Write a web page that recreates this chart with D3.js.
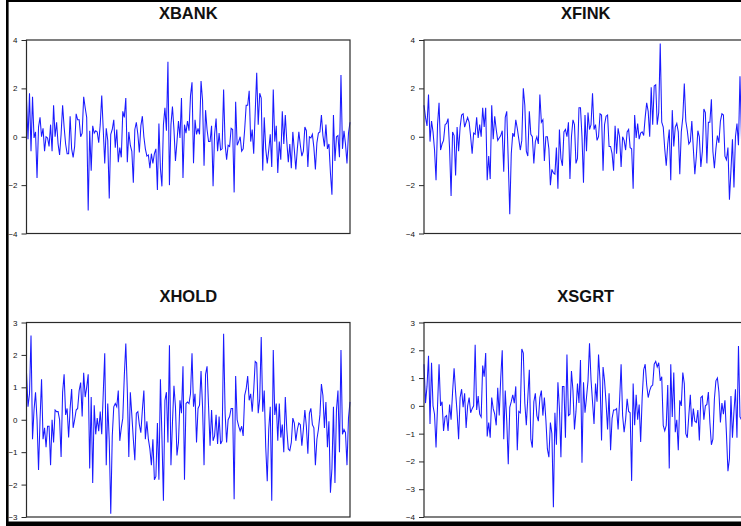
<!DOCTYPE html>
<html>
<head>
<meta charset="utf-8">
<script src="https://cdn.jsdelivr.net/npm/d3@7"></script>
<style>
  html, body { margin: 0; padding: 0; background: #fff; }
  svg { display: block; }
</style>
</head>
<body>
<svg id="chart" width="741" height="526"></svg>
<script>
// Standardised monthly series, one array per panel
const xbank = [1.55,-0.1,1.8,-0.6,1.65,-0.05,0.2,-1.7,0.4,0.8,0.0,0.35,-0.6,0.0,-0.05,-0.4,0.5,-0.6,1.3,0.0,0.6,-0.3,-0.75,0.1,1.3,0.4,-0.3,-0.7,-0.7,0.85,-0.5,-0.85,-0.4,0.95,0.7,0.7,0.0,0.15,1.65,1.2,0.8,-3.05,0.25,-1.4,0.45,0.15,0.25,0.2,-0.25,0.5,1.7,0.3,-1.1,0.35,-0.15,-2.55,0.1,0.3,0.7,-0.45,0.3,-1.05,-0.45,-0.85,1.05,0.8,1.6,-1.05,0.2,-0.35,-0.6,-1.9,0.3,0.6,0.1,-0.65,0.45,0.85,0.0,-0.5,-0.8,-0.75,-1.3,-0.7,-1.1,-0.7,-0.5,-2.2,0.55,-1.3,-2.05,0.5,1.2,0.25,3.1,-2.0,0.5,1.25,0.3,-1.0,-0.2,0.65,-0.05,1.6,-1.7,0.5,0.15,0.65,0.25,1.7,2.25,-1.1,0.7,0.1,0.35,0.1,2.3,1.5,-1.2,1.1,0.3,-0.2,-0.2,0.45,-2.05,0.1,0.75,-0.6,0.15,-0.55,-0.5,1.95,-0.3,-0.95,-0.35,-0.4,0.35,0.3,-2.3,1.45,-0.35,-0.2,0.0,-0.6,-0.5,0.3,1.3,1.3,1.9,-0.2,0.3,-0.7,1.0,2.65,0.5,1.8,1.6,-1.4,0.8,-0.5,-1.1,-0.55,0.1,-1.25,1.95,-0.2,0.45,-1.5,-0.2,-0.95,1.05,-0.3,0.9,-0.2,-1.05,-0.3,-1.3,0.2,-0.55,-1.35,-0.5,0.2,-0.35,-0.8,-0.6,0.4,0.25,-1.25,0.0,-0.05,0.1,-0.45,-1.35,-0.25,0.15,0.2,0.9,0.05,-0.4,0.5,-0.5,-0.3,-1.5,-2.4,0.9,-1.0,0.0,0.05,-0.85,2.55,-0.5,0.25,-0.3,-1.1,0.15,0.6];

const xfink = [1.3,0.8,0.45,1.75,-0.2,0.65,0.2,-0.55,-1.8,0.5,1.4,-0.55,-0.3,-0.15,0.5,0.55,0.75,-0.5,-2.45,0.2,0.05,-1.6,0.4,-0.6,0.4,0.9,0.95,0.4,0.6,0.8,0.6,0.0,-0.7,0.15,0.1,0.8,-0.05,0.5,0.0,1.2,0.4,1.2,-1.8,-0.8,-1.75,1.3,-0.1,0.85,0.3,-0.15,-0.05,0.05,0.25,-1.45,0.8,1.05,-1.0,-3.2,-0.7,0.15,0.0,0.7,0.35,-0.1,-0.55,-0.15,2.0,1.3,-0.6,-0.8,1.05,0.1,0.0,-1.1,-0.2,0.0,-0.3,1.75,0.6,0.7,-1.0,0.0,0.0,-0.5,-2.0,-1.35,-1.5,-1.55,-0.45,-2.15,0.3,-0.9,-1.2,0.2,0.3,0.0,0.6,-1.75,0.0,0.7,0.5,-1.1,-0.9,1.2,1.2,0.0,-1.9,0.9,-0.6,1.0,0.3,0.5,1.8,0.3,0.5,-0.15,0.0,0.95,0.9,-1.4,0.5,0.85,0.9,-0.4,-0.4,-0.7,-1.4,0.45,-0.7,0.35,0.0,-1.25,0.0,-0.15,-0.55,0.2,0.3,-0.45,-0.5,-2.15,0.9,-0.05,0.55,-0.1,0.15,0.2,0.05,0.8,1.4,1.05,0.0,2.05,0.5,2.1,2.15,0.5,1.0,3.85,0.6,0.4,-0.5,-1.2,-0.3,0.3,-1.8,1.1,-0.4,0.4,0.55,0.2,-1.55,0.2,0.8,2.2,0.65,0.25,-0.3,-0.2,0.65,-0.5,-1.55,-0.8,0.25,0.0,-1.25,-0.6,1.15,1.0,-1.1,0.6,0.6,1.55,-0.6,-1.3,-0.5,0.05,-0.25,0.65,0.95,0.9,-0.8,-0.95,-0.45,-2.6,-1.4,-0.1,-2.1,0.0,0.55,-0.35,2.5,-0.05,0.0];

const xhold = [1.45,0.4,0.8,2.6,-0.6,0.3,0.85,0.0,-1.55,0.0,1.25,-0.6,-0.25,-0.85,-0.2,-0.2,-1.4,0.0,-0.7,0.3,0.25,0.25,0.0,-1.15,0.85,1.4,0.15,0.35,-0.55,0.35,0.95,-0.25,0.0,0.3,0.35,0.9,1.15,0.1,1.45,0.7,1.0,1.4,-1.5,0.7,-1.95,0.45,-0.45,0.05,-0.35,0.25,-0.45,0.8,2.05,-1.4,0.5,-0.65,-2.9,-0.5,0.4,0.5,0.4,0.9,-0.65,-0.25,0.05,1.35,2.35,0.9,-1.15,0.85,0.15,-0.6,-1.25,0.2,0.25,-0.15,-0.4,0.3,0.9,-0.6,-0.05,-0.6,-0.9,-1.4,-0.6,-1.85,-1.75,-0.1,-1.85,1.25,-0.5,-2.5,0.6,0.85,-0.7,2.3,-1.4,-0.1,1.05,0.4,-1.1,-0.7,0.6,0.2,1.65,-1.85,0.5,0.55,0.5,0.8,2.05,0.4,0.8,-0.7,0.35,0.45,1.5,0.4,-1.4,1.4,1.65,0.4,-0.8,0.3,-0.65,-0.5,0.15,-0.75,0.1,-0.75,-0.65,2.65,0.2,-0.7,0.0,0.1,0.35,0.35,-2.45,1.35,0.0,-0.2,-0.35,-0.2,-0.5,0.75,0.95,1.35,0.6,0.8,0.25,0.9,1.8,1.75,0.2,0.65,2.55,0.25,0.9,-0.85,-1.9,-0.3,0.4,-2.5,2.15,0.15,0.5,-0.65,0.5,-0.55,-0.15,-1.0,0.7,-0.3,-0.9,-0.95,-0.7,0.05,-0.1,-0.65,-0.3,-0.1,-0.15,-0.8,-0.3,0.3,-0.2,-1.05,0.2,0.35,-0.15,-0.25,-1.4,-0.6,-0.3,0.15,1.1,0.75,-0.25,0.55,-0.85,-0.05,-2.25,-1.5,0.4,-1.95,0.3,0.9,-1.0,2.15,-0.45,-0.3,-0.4,-1.4,0.05,0.55];

const xsgrt = [1.5,0.1,0.7,1.8,-0.65,1.55,0.0,-0.3,-1.5,0.0,1.5,0.0,0.15,-0.9,-0.4,-0.35,-0.9,0.05,-0.5,0.5,1.35,0.5,-0.25,-1.2,0.3,0.6,-0.05,0.45,-0.8,0.0,0.3,-0.25,-0.1,0.0,2.2,-0.15,0.35,-0.3,-0.4,1.45,1.05,1.9,-1.1,-0.6,-1.15,0.3,-0.1,-0.3,-0.7,0.65,-0.35,1.0,2.0,-1.2,0.55,-0.55,-2.1,-0.05,0.15,0.4,0.1,0.7,-1.6,-0.2,-0.25,2.05,1.9,0.1,-0.7,0.3,1.3,-1.2,-1.5,0.15,0.45,-0.35,-0.55,0.3,0.55,-0.35,0.3,-0.5,-1.55,-1.85,-0.6,-1.0,-3.65,-0.25,-1.4,0.85,-0.1,-1.85,0.7,0.7,-1.15,1.85,-0.35,-0.3,1.25,0.55,-0.85,-0.2,0.8,0.1,1.65,-2.05,0.85,-0.25,0.3,0.9,2.25,0.95,0.15,-0.65,0.8,0.15,1.85,0.9,-1.25,1.4,0.9,0.1,-0.85,0.45,-1.6,-0.45,-0.15,-0.15,-0.1,-0.85,0.2,1.5,-0.35,-0.95,-0.5,0.25,-0.2,-0.25,-2.7,0.8,-0.7,0.4,-0.5,0.05,-1.3,0.3,1.3,1.5,0.75,0.3,0.55,0.7,0.75,1.5,1.6,1.4,1.55,0.9,1.05,-0.7,-0.9,-0.7,0.75,-2.25,1.5,-0.4,1.2,-0.95,-0.5,-1.6,0.2,0.0,1.2,0.8,-1.0,-1.15,-0.35,0.4,-0.75,-0.1,-0.55,-0.6,-0.15,-1.25,0.3,0.35,-0.5,0.0,0.05,0.5,-0.6,-1.4,-1.2,0.25,0.9,1.0,0.5,-0.6,0.1,-0.3,0.2,-1.0,-2.35,-1.9,0.35,-1.15,-0.2,0.6,-1.15,2.15,-0.4,-0.5];

const titles = ["XBANK", "XFINK", "XHOLD", "XSGRT"];
const seriesList = [xbank, xfink, xhold, xsgrt];
const yDomains = [[-4, 4], [-4, 4], [-3, 3], [-4, 3]];
const yTicks = [[-4, -2, 0, 2, 4], [-4, -2, 0, 2, 4], [-3, -2, -1, 0, 1, 2, 3], [-4, -3, -2, -1, 0, 1, 2, 3]];

const svg = d3.select("#chart");
const W = 741, H = 526;

// panel geometry: two columns, two rows
const plotW = 323.5;
const colX = [26.5, 424];
const rowY = [[40, 233.5], [322.5, 517]];
const nObs = d3.max(seriesList, s => s.length);

seriesList.forEach((data, i) => {
  const col = i % 2, row = Math.floor(i / 2);
  const x0 = colX[col], x1 = x0 + plotW;
  const [yTop, yBot] = rowY[row];

  const x = d3.scaleLinear().domain([0, nObs - 1]).range([x0, x1]);
  const y = d3.scaleLinear().domain(yDomains[i]).range([yBot, yTop]);

  const g = svg.append("g");

  // title
  g.append("text")
    .attr("x", (x0 + x1) / 2)
    .attr("y", yTop - (row === 0 ? 21.5 : 21))
    .attr("text-anchor", "middle")
    .attr("font-family", "Liberation Sans, Arial, sans-serif")
    .attr("font-weight", "bold")
    .attr("font-size", 16.5)
    .attr("fill", "#111")
    .text(titles[i]);

  // series line
  const line = d3.line().x((d, k) => x(k)).y(d => y(d));
  g.append("path")
    .datum(data)
    .attr("fill", "none")
    .attr("stroke", "#1a1aff")
    .attr("stroke-width", 1.05)
    .attr("stroke-linejoin", "miter")
    .attr("d", line);

  // frame
  g.append("rect")
    .attr("x", x0).attr("y", yTop)
    .attr("width", x1 - x0).attr("height", yBot - yTop)
    .attr("fill", "none")
    .attr("stroke", "#2a2a2a")
    .attr("stroke-width", 1.2);

  // left axis
  const axis = d3.axisLeft(y)
    .tickValues(yTicks[i])
    .tickSize(5)
    .tickPadding(4)
    .tickFormat(d3.format("d"));
  const ag = g.append("g")
    .attr("transform", `translate(${x0},0)`)
    .call(axis);
  ag.select(".domain").remove();
  ag.selectAll(".tick line").attr("stroke", "#2a2a2a");
  ag.selectAll(".tick text")
    .attr("font-family", "Liberation Sans, Arial, sans-serif")
    .attr("font-size", 8)
    .attr("fill", "#111");
});

// outer border along the top, left and bottom edges
svg.append("rect").attr("x", 6).attr("y", 0).attr("width", W - 6).attr("height", 2).attr("fill", "#000");
svg.append("rect").attr("x", 6).attr("y", 0).attr("width", 2.6).attr("height", H).attr("fill", "#000");
svg.append("rect").attr("x", 6).attr("y", 521.5).attr("width", W - 6).attr("height", H - 521.5).attr("fill", "#000");
</script>
</body>
</html>
